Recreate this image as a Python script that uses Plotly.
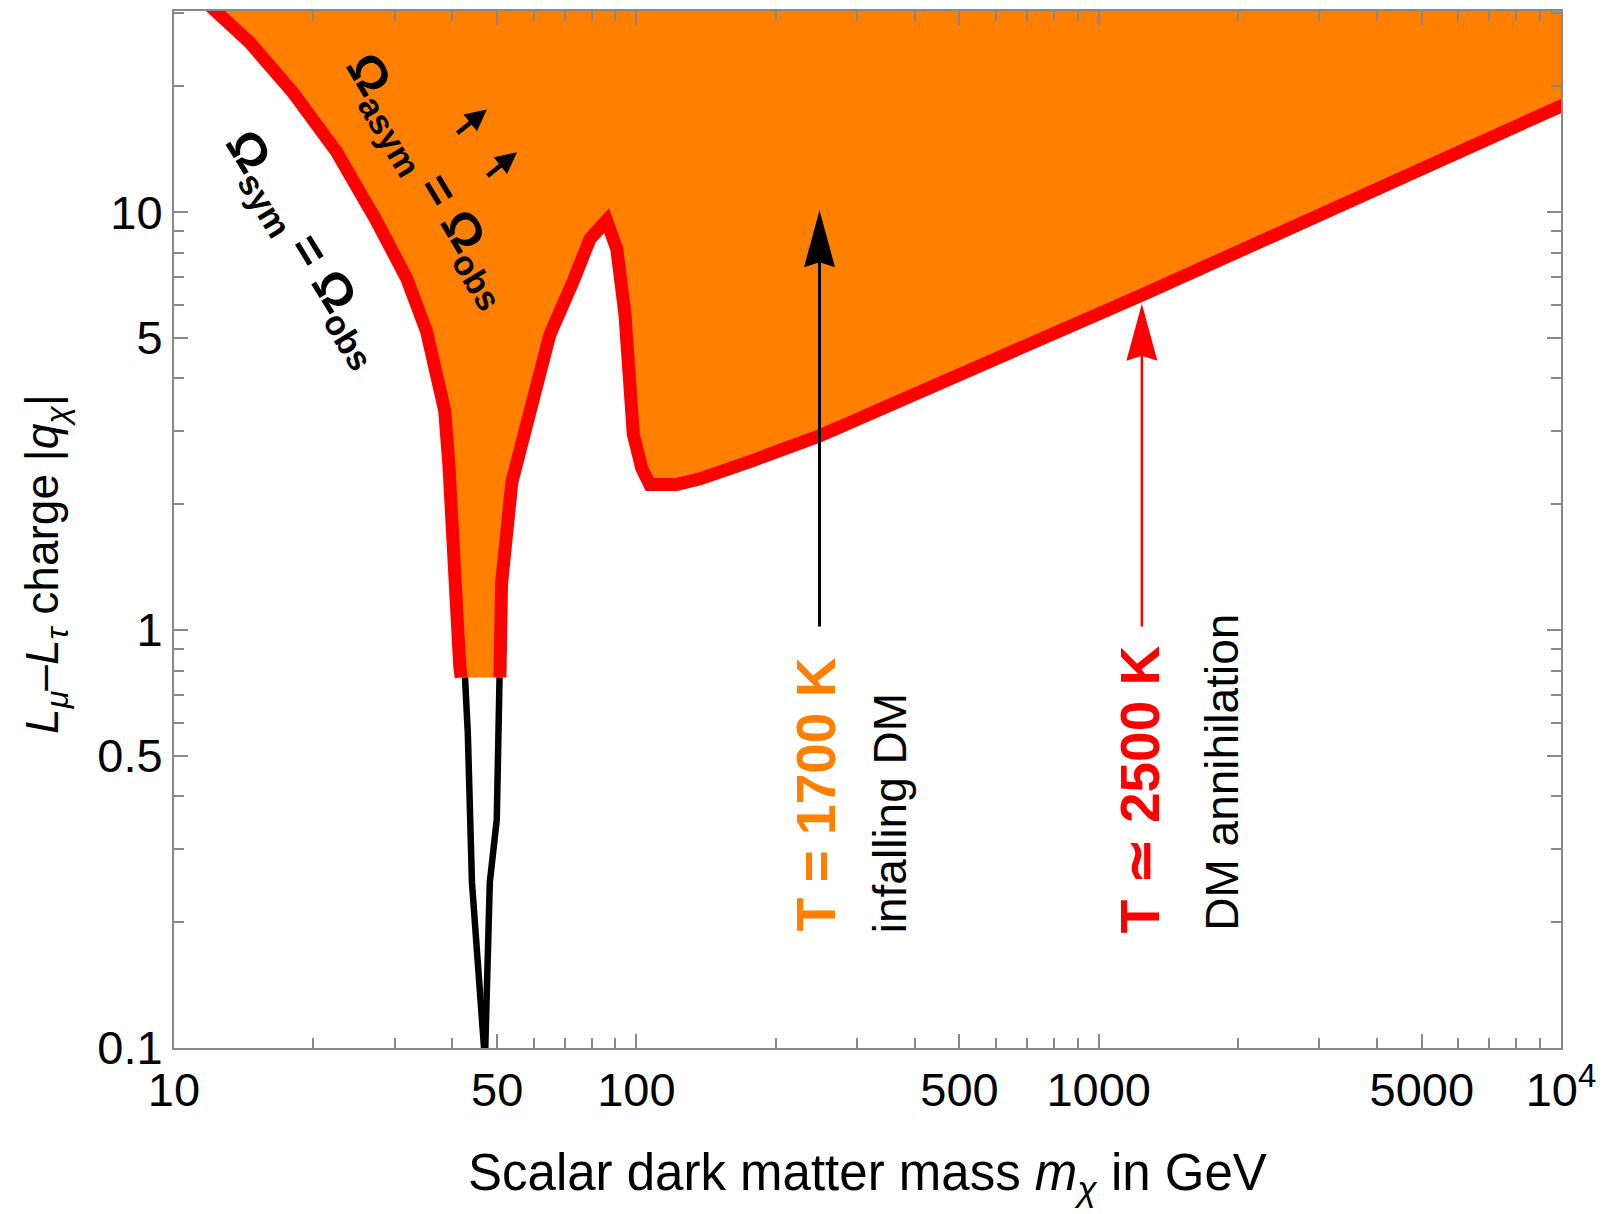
import numpy as np
import plotly.graph_objects as go

# ---------------- data ----------------
# red boundary Omega_asym = Omega_obs : left branch (top -> dip bottom)
red_left_mass = [11.2, 11.96, 14.6, 18.1, 22.5, 27.5, 31.9, 35.2, 37.6, 38.5, 39.3, 39.9, 40.4, 41.5, 41.8]
red_left_charge = [33.3, 31.1, 25.4, 19.3, 13.9, 9.46, 6.92, 5.17, 3.87, 3.35, 2.5, 1.8, 1.09, 0.82, 0.77]
# right branch (dip bottom -> resonance peak -> high mass)
red_right_mass = [50.7, 51.1, 53.8, 58.0, 62.7, 65.0, 72.9, 79.4, 86.2, 90.7, 94.5, 96.8, 98.5,
                  102.7, 106.9, 122.2, 137.3, 176, 248, 1240, 10300]
red_right_charge = [0.77, 1.29, 2.26, 3.16, 4.43, 5.09, 6.80, 8.63, 9.54, 8.17, 5.68, 3.93, 2.94,
                    2.44, 2.23, 2.23, 2.30, 2.53, 2.91, 6.33, 18.2]
# black curves Omega_sym = Omega_obs below the cut
black_left_mass = [42.6, 43.2, 44.1, 46.9]
black_left_charge = [0.77, 0.567, 0.249, 0.098]
black_right_mass = [50.6, 49.9, 48.2, 47.1]
black_right_charge = [0.77, 0.352, 0.249, 0.098]

# arrows
arrow_mass = [249, 1240]
arrow_tail = [1.02, 1.02]
arrow_tip = [10.1, 6.03]
arrow_colors = ["black", "#FF0000"]
arrow_widths = [3, 2.5]

# small "pointing outwards" arrows next to the Omega_asym label (tip positions)
small_arrow_mass = [47.5, 55.2]
small_arrow_charge = [17.6, 13.9]

# axes
x_range = [1, 4]
y_range = [-1, 1.481]
x_tickvals = [10, 50, 100, 500, 1000, 5000, 10000]
x_ticktext = ["10", "50", "100", "500", "1000", "5000", "10<sup>4</sup>"]
x_minor = [20, 30, 40, 60, 70, 80, 90, 200, 300, 400, 600, 700, 800, 900,
           2000, 3000, 4000, 6000, 7000, 8000, 9000]
y_tickvals = [0.1, 0.5, 1, 5, 10]
y_ticktext = ["0.1", "0.5", "1", "5", "10"]
y_minor = [0.2, 0.3, 0.4, 0.6, 0.7, 0.8, 0.9, 2, 3, 4, 6, 7, 8, 9, 20, 30]

ORANGE = "#FF8000"
RED = "#FF0000"
FONT = "Liberation Sans, Arial, Helvetica, sans-serif"

# page body has an 8px margin: figure is placed at (8, 8)
OFF = 8
W, H = 1605 - OFF, 1214 - OFF
ML, MR, MT, MB = 174 - OFF, 44, 1, 166
PW, PH = W - ML - MR, H - MT - MB
px_per_dec_x = PW / (x_range[1] - x_range[0])
px_per_dec_y = PH / (y_range[1] - y_range[0])
# page coords of the plot area's top-left corner
PL, PT = ML + OFF, MT + OFF

fig = go.Figure()

# orange allowed region (above red curve)
top_q = 10 ** (y_range[1] + 0.3)
fill_m = red_left_mass + red_right_mass + [red_right_mass[-1], red_left_mass[0]]
fill_q = red_left_charge + red_right_charge + [top_q, top_q]
fig.add_trace(go.Scatter(x=fill_m, y=fill_q, mode="lines", fill="toself",
                         fillcolor=ORANGE, line=dict(width=0, color=ORANGE),
                         hoverinfo="skip"))

for xm, yq in [(red_left_mass, red_left_charge), (red_right_mass, red_right_charge)]:
    fig.add_trace(go.Scatter(x=xm, y=yq, mode="lines",
                             line=dict(color=RED, width=13), hoverinfo="skip"))

for xm, yq in [(black_left_mass, black_left_charge), (black_right_mass, black_right_charge)]:
    fig.add_trace(go.Scatter(x=xm, y=yq, mode="lines",
                             line=dict(color="black", width=6.5), hoverinfo="skip"))

# arrows (shaft + narrow notched head)
head_len = 57 / px_per_dec_y
head_hw = 15.5 / px_per_dec_x
notch = 5 / px_per_dec_y
for m, qt, qh, c, w in zip(arrow_mass, arrow_tail, arrow_tip, arrow_colors, arrow_widths):
    lx, lt, lh = np.log10(m), np.log10(qt), np.log10(qh)
    fig.add_trace(go.Scatter(x=[m, m], y=[qt, 10 ** (lh - head_len + notch + 0.005)], mode="lines",
                             line=dict(color=c, width=w), hoverinfo="skip"))
    hx = [lx, lx - head_hw, lx, lx + head_hw, lx]
    hy = [lh, lh - head_len, lh - head_len + notch, lh - head_len, lh]
    fig.add_trace(go.Scatter(x=[10 ** v for v in hx], y=[10 ** v for v in hy], mode="lines",
                             fill="toself", fillcolor=c, line=dict(width=0, color=c),
                             hoverinfo="skip"))

axis_common = dict(type="log", showgrid=False, zeroline=False, showline=True,
                   linecolor="#888888", linewidth=2, mirror="ticks", ticks="inside",
                   ticklen=14, tickwidth=1.5, tickcolor="#888888",
                   tickfont=dict(family=FONT, size=47, color="black"))

fig.update_xaxes(range=x_range, tickvals=x_tickvals, ticktext=x_ticktext,
                 minor=dict(tickvals=x_minor, ticks="inside", ticklen=10,
                            tickwidth=1.5, tickcolor="#888888"),
                 **axis_common)
fig.update_yaxes(range=y_range, tickvals=y_tickvals, ticktext=y_ticktext,
                 minor=dict(tickvals=y_minor, ticks="inside", ticklen=10,
                            tickwidth=1.5, tickcolor="#888888"),
                 **axis_common)

def lgx(px):
    return x_range[0] + (px - PL) / px_per_dec_x

def lgy(py):
    return y_range[1] - (py - PT) / px_per_dec_y

annotations = [
    dict(text="<b>Ω<sub>sym</sub> = Ω<sub>obs</sub></b>", x=lgx(305), y=lgy(247),
         textangle=58.5, font=dict(size=49, color="black", family=FONT)),
    dict(text="<b>Ω<sub>asym</sub> = Ω<sub>obs</sub></b>", x=lgx(429), y=lgy(178),
         textangle=59, font=dict(size=49, color="black", family=FONT)),
    dict(text="<b>T = 1700 K</b>", x=lgx(816), y=lgy(933), yanchor="bottom",
         textangle=-90, font=dict(size=55, color=ORANGE, family=FONT)),
    dict(text="infalling DM", x=lgx(890), y=lgy(935), yanchor="bottom",
         textangle=-90, font=dict(size=46, color="black", family=FONT)),
    dict(text="<b>T ≃ 2500 K</b>", x=lgx(1140), y=lgy(935), yanchor="bottom",
         textangle=-90, font=dict(size=55, color=RED, family=FONT)),
    dict(text="DM annihilation", x=lgx(1222), y=lgy(933), yanchor="bottom",
         textangle=-90, font=dict(size=46, color="black", family=FONT)),
]
for a in annotations:
    a.update(xref="x", yref="y", showarrow=False)
    a.setdefault("yanchor", "middle")
    a.setdefault("xanchor", "center")

for m, q in zip(small_arrow_mass, small_arrow_charge):
    annotations.append(dict(x=np.log10(m), y=np.log10(q), xref="x", yref="y", text="",
                            showarrow=True, arrowhead=2, arrowsize=0.95, arrowwidth=4.5,
                            arrowcolor="black", ax=-31, ay=25, axref="pixel", ayref="pixel"))

annotations.append(dict(text="Scalar dark matter mass <i>m</i><sub><i>χ</i></sub> in GeV",
                        xref="paper", yref="paper", x=0.5, y=(PT + PH - 1177) / PH,
                        xanchor="center", yanchor="middle", showarrow=False,
                        font=dict(size=51, color="black", family=FONT)))
annotations.append(dict(text="<i>L</i><sub><i>μ</i></sub>–<i>L</i><sub><i>τ</i></sub> charge |<i>q</i><sub><i>χ</i></sub>|",
                        xref="paper", yref="paper", x=(46 - PL) / PW, y=(PT + PH - 563) / PH,
                        xanchor="center", yanchor="middle", textangle=-90, showarrow=False,
                        font=dict(size=46, color="black", family=FONT)))

fig.update_layout(width=W, height=H, margin=dict(l=ML, r=MR, t=MT, b=MB),
                  paper_bgcolor="white", plot_bgcolor="white", showlegend=False,
                  annotations=annotations)

fig.write_html("out.html")
